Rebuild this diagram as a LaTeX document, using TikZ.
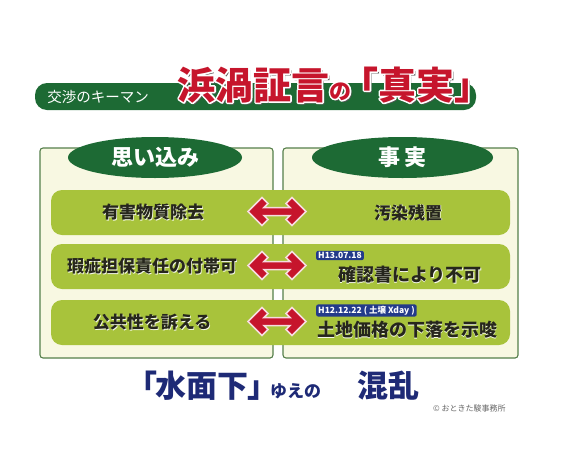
\documentclass[tikz,border=0pt]{standalone}
\usepackage{fontspec}
\setmainfont{Noto Sans CJK JP}
\newfontfamily\cjk{Noto Sans CJK JP}
\usetikzlibrary{shapes.geometric}
\definecolor{dgreen}{HTML}{1D6A34}
\definecolor{lgreen}{HTML}{A8C33B}
\definecolor{cream}{HTML}{F8F8E2}
\definecolor{pborder}{HTML}{557F4A}
\definecolor{tred}{HTML}{C6152C}
\definecolor{navy}{HTML}{1E2A76}
\definecolor{badge}{HTML}{233A8A}
\definecolor{txtdark}{HTML}{26261C}
\newcommand{\strokedtext}[1]{\special{pdf:literal direct 1 Tr 3.2 w 1 1 1 RG 1 j}#1\special{pdf:literal direct 0 Tr}}
\tikzset{
  panel/.style={draw=pborder, line width=1.1pt, fill=cream, rounded corners=3pt},
  hdr/.style={ellipse, fill=dgreen, inner sep=0pt, text=white, font=\cjk\bfseries\fontsize{22}{22}\selectfont},
  bar/.style={fill=lgreen, rounded corners=11pt, minimum width=459pt, minimum height=45pt, inner sep=0pt},
  btxt/.style={text=txtdark, font=\cjk\bfseries\fontsize{17}{17}\selectfont, inner sep=0pt},
  bsh/.style={text=white!90!lgreen, font=\cjk\bfseries\fontsize{17}{17}\selectfont, inner sep=0pt},
  badgebox/.style={fill=badge, text=white, rounded corners=2pt, inner xsep=2pt, inner ysep=1.5pt, font=\cjk\bfseries\fontsize{8.5}{8.5}\selectfont},
  redarrow/.style={fill=tred, draw=white!85!tred, line width=1.5pt, line join=miter},
  ttl/.style={font=\cjk\bfseries\fontsize{38}{38}\selectfont, inner sep=0pt, anchor=base west},
  ttls/.style={font=\cjk\bfseries\fontsize{22}{22}\selectfont, inner sep=0pt, anchor=base west},
  btm/.style={text=navy, font=\cjk\bfseries\fontsize{31}{31}\selectfont, inner sep=0pt, anchor=base west},
}
\begin{document}
\begin{tikzpicture}[x=1pt,y=-1pt]
\useasboundingbox (0,0) rectangle (570,469);
\fill[white] (0,0) rectangle (570,469);
% top bar
\node[fill=dgreen, rounded corners=12pt, minimum width=441pt, minimum height=27pt, inner sep=0pt] (topbar) at (255.5,96.5) {};
\node[text=white, font=\cjk\fontsize{14.5}{14.5}\selectfont, inner sep=0pt] (keyman) at (98,97.5) {交渉のキーマン};
% title: shadow, white outline, red fill
\node[ttl, text=black!65] (tas) at (179.5,101.5) {浜渦証言};
\node[ttls, text=black!65] (tbs) at (331.5,101.5) {の};
\node[ttl, text=black!65] (tcs) at (342.5,101.5) {「真実」};
\node[ttl, text=white] (tao) at (177,99) {\strokedtext{浜渦証言}};
\node[ttls, text=white] (tbo) at (329,99) {\strokedtext{の}};
\node[ttl, text=white] (tco) at (340,99) {\strokedtext{「真実」}};
\node[ttl, text=tred] (ta) at (177,99) {浜渦証言};
\node[ttls, text=tred] (tb) at (329,99) {の};
\node[ttl, text=tred] (tc) at (340,99) {「真実」};
% panels
\node[panel, minimum width=233pt, minimum height=210pt] (lpanel) at (156.5,253) {};
\node[panel, minimum width=235pt, minimum height=210pt] (rpanel) at (400.5,253) {};
% headers
\node[hdr, minimum width=174pt, minimum height=41pt] (lhdr) at (155,157.5) {思い込み};
\node[hdr, minimum width=181pt, minimum height=41pt] (rhdr) at (402.5,157.5) {事\,実};
% bars
\node[bar] (bar1) at (280.5,212.5) {};
\node[bar] (bar2) at (280.5,266.5) {};
\node[bar] (bar3) at (280.5,322.5) {};
% left texts
\node[bsh] (l1s) at (153.8,213.3) {有害物質除去};
\node[btxt] (l1) at (153,212.5) {有害物質除去};
\node[bsh] (l2s) at (152.8,267.3) {瑕疵担保責任の付帯可};
\node[btxt] (l2) at (152,266.5) {瑕疵担保責任の付帯可};
\node[bsh] (l3s) at (152.8,323.3) {公共性を訴える};
\node[btxt] (l3) at (152,322.5) {公共性を訴える};
% right texts
\node[bsh] (r1s) at (408.8,213.3) {汚染残置};
\node[btxt] (r1) at (408,212.5) {汚染残置};
\node[bsh, font=\cjk\bfseries\fontsize{18}{18}\selectfont] (r2s) at (410.8,275.8) {確認書により不可};
\node[btxt, font=\cjk\bfseries\fontsize{18}{18}\selectfont] (r2) at (410,275) {確認書により不可};
\node[bsh, font=\cjk\bfseries\fontsize{18}{18}\selectfont] (r3s) at (407.8,330.8) {土地価格の下落を示唆};
\node[btxt, font=\cjk\bfseries\fontsize{18}{18}\selectfont] (r3) at (407,330) {土地価格の下落を示唆};
% badges
\node[badgebox, anchor=west] (d1) at (316,255.5) {H13.07.18};
\node[badgebox, anchor=west] (d2) at (316,310.5) {H12.12.22 ( 土壌 Xday )};
% arrows (chevron-headed double arrows)
\foreach \n/\y in {1/211.5, 2/265.5, 3/321.5}{
  \coordinate (ac\n) at (278,\y);
  \fill[black!40, shift={(1.3,1.3)}] (ac\n) ++(-30,0) -- ++(14,-14) -- ++(6,6) -- ++(-4,4) -- ++(26,0) -- ++(-4,-4) -- ++(6,-6) -- ++(14,14) -- ++(-14,14) -- ++(-6,-6) -- ++(4,-4) -- ++(-26,0) -- ++(4,4) -- ++(-6,6) -- cycle;
  \draw[redarrow] (ac\n) ++(-30,0) -- ++(14,-14) -- ++(6,6) -- ++(-4,4) -- ++(26,0) -- ++(-4,-4) -- ++(6,-6) -- ++(14,14) -- ++(-14,14) -- ++(-6,-6) -- ++(4,-4) -- ++(-26,0) -- ++(4,4) -- ++(-6,6) -- cycle;
}
% bottom text
\node[btm] (bt1) at (126,397) {「};
\node[btm] (bt2) at (155,397) {水面下};
\node[btm] (bt3) at (247,397) {」};
\node[text=navy, font=\cjk\bfseries\fontsize{17}{17}\selectfont, inner sep=0pt, anchor=base west] (bt4) at (270,397) {ゆえの};
\node[btm] (bt5) at (357,397) {混乱};
\node[text=black!60, font=\cjk\fontsize{8}{8}\selectfont, inner sep=0pt, anchor=west] (copy) at (433,408) {© おときた駿事務所};
\end{tikzpicture}
\end{document}
